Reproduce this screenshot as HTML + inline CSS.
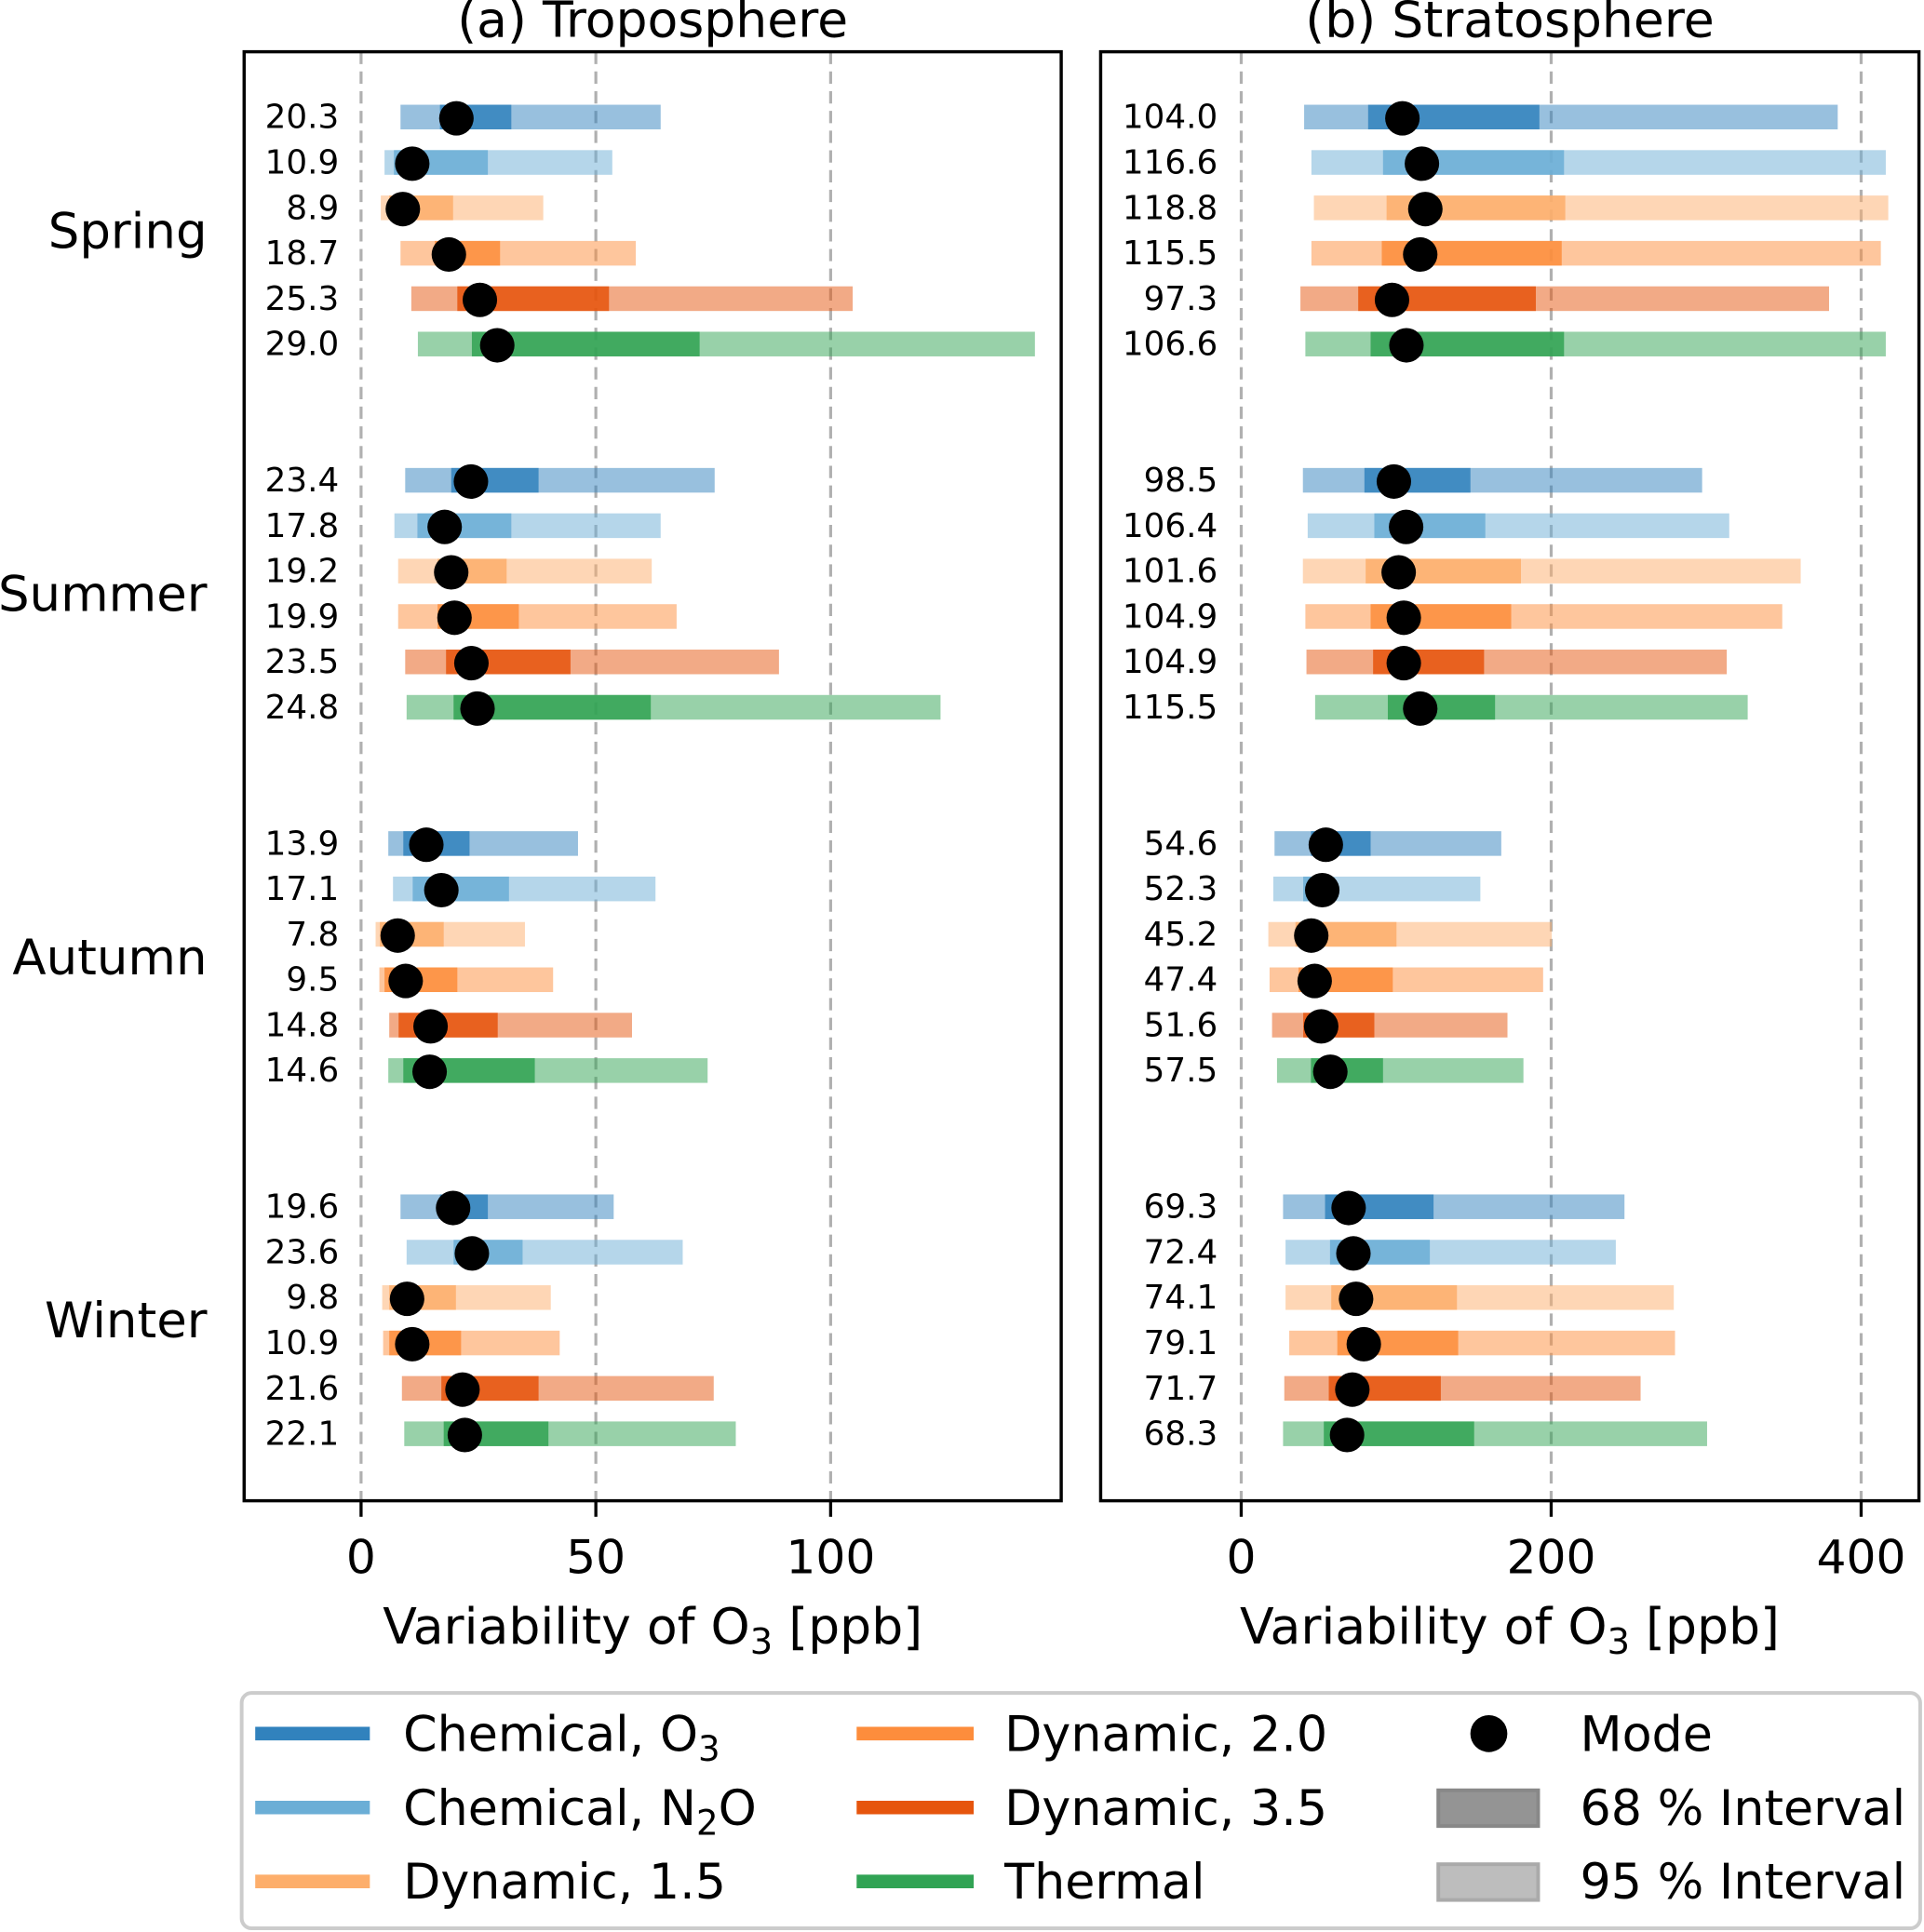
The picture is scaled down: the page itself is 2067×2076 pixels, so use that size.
<!DOCTYPE html>
<html><head><meta charset="utf-8"><style>
html,body{margin:0;padding:0;background:#fff}
svg{display:block;font-family:"DejaVu Sans","Liberation Sans",sans-serif}
</style></head><body>
<svg id="fig" width="2067" height="2076" viewBox="0 0 1561 1568" xmlns="http://www.w3.org/2000/svg">
<g id="plots"></g>
<g id="legend">
<rect x="196" y="1374" width="1362" height="191" rx="8" fill="#fff" stroke="#cccccc" stroke-width="3"/>
<line x1="207" y1="1407" x2="300" y2="1407" stroke="#3182bd" stroke-width="11"/>
<text x="327" y="1421" font-size="39.5">Chemical, O<tspan font-size="28" dy="8">3</tspan></text>
<line x1="207" y1="1467" x2="300" y2="1467" stroke="#6baed6" stroke-width="11"/>
<text x="327" y="1481" font-size="39.5">Chemical, N<tspan font-size="28" dy="8">2</tspan><tspan dy="-8">O</tspan></text>
<line x1="207" y1="1527" x2="300" y2="1527" stroke="#fdae6b" stroke-width="11"/>
<text x="327" y="1541" font-size="39.5">Dynamic, 1.5</text>
<line x1="695" y1="1407" x2="790" y2="1407" stroke="#fd8d3c" stroke-width="11"/>
<text x="815" y="1421" font-size="39.5">Dynamic, 2.0</text>
<line x1="695" y1="1467" x2="790" y2="1467" stroke="#e6550d" stroke-width="11"/>
<text x="815" y="1481" font-size="39.5">Dynamic, 3.5</text>
<line x1="695" y1="1527" x2="790" y2="1527" stroke="#31a354" stroke-width="11"/>
<text x="815" y="1541" font-size="39.5">Thermal</text>
<circle cx="1208" cy="1407" r="15" fill="#000"/>
<text x="1282" y="1421" font-size="39.5">Mode</text>
<rect x="1167" y="1453" width="81" height="29" fill="#949494" stroke="#888" stroke-width="3"/>
<text x="1282" y="1481" font-size="39.5">68 % Interval</text>
<rect x="1167" y="1513" width="81" height="29" fill="#bdbdbd" stroke="#aaa" stroke-width="3"/>
<text x="1282" y="1541" font-size="39.5">95 % Interval</text>
</g>
</svg>
<script>
const seasons = ["Spring","Summer","Autumn","Winter"];
const colors = ["#3182bd","#6baed6","#fdae6b","#fd8d3c","#e6550d","#31a354"];
// Troposphere
const tropMode = [20.3,10.9,8.9,18.7,25.3,29.0, 23.4,17.8,19.2,19.9,23.5,24.8, 13.9,17.1,7.8,9.5,14.8,14.6, 19.6,23.6,9.8,10.9,21.6,22.1];
const tropLo95 = [8.4,5.0,4.2,8.4,10.7,12.1, 9.4,7.1,7.9,7.9,9.4,9.7, 5.8,6.8,3.1,3.9,6.0,5.8, 8.4,9.7,4.5,4.7,8.7,9.2];
const tropHi95 = [63.8,53.5,38.8,58.5,104.7,143.5, 75.3,63.8,61.9,67.2,89.0,123.4, 46.2,62.7,34.9,40.9,57.7,73.8, 53.8,68.5,40.4,42.3,75.1,79.8];
const tropLo68 = [16.8,7.0,6.0,15.7,20.5,23.6, 19.2,12.0,16.3,16.3,18.1,19.7, 9.0,11.0,4.0,5.0,8.0,9.0, 16.8,19.7,6.0,6.0,17.1,17.6];
const tropHi68 = [32.0,27.0,19.6,29.6,52.8,72.1, 37.8,32.0,31.0,33.6,44.6,61.7, 23.1,31.5,17.6,20.5,29.1,37.0, 27.0,34.4,20.2,21.3,37.8,39.9];
// Stratosphere
const stratMode = [104.0,116.6,118.8,115.5,97.3,106.6, 98.5,106.4,101.6,104.9,104.9,115.5, 54.6,52.3,45.2,47.4,51.6,57.5, 69.3,72.4,74.1,79.1,71.7,68.3];
const stratLo95 = [40.6,45.3,46.9,45.3,38.2,41.4, 39.8,42.9,39.8,41.4,42.1,47.7, 21.5,20.7,17.5,18.3,19.9,23.1, 27.0,28.6,28.6,31.0,27.8,27.0];
const stratHi95 = [384.9,415.9,417.5,412.7,379.3,415.9, 297.4,314.9,361.0,349.1,313.3,326.8, 167.8,154.3,200.4,194.8,171.8,182.1, 247.3,241.7,279.1,279.9,257.7,300.6];
const stratLo68 = [81.9,91.5,93.8,90.7,75.5,83.5, 79.5,85.9,80.3,83.5,85.1,94.6, 45,40,35,37,40,45, 54.1,57.3,58.1,62.0,56.5,53.3];
const stratHi68 = [192.4,208.3,209.1,206.8,190.1,208.3, 147.9,157.5,180.5,174.2,156.7,163.8, 83.5,54.9,100.2,97.8,85.9,91.5, 124.1,121.7,139.2,140.0,128.8,150.3];
const tropTicks = [0,50,100];
const stratTicks = [0,200,400];

const NS="http://www.w3.org/2000/svg";
const root=document.getElementById('plots');
function mk(tag,attrs,parent){const e=document.createElementNS(NS,tag);for(const k in attrs)e.setAttribute(k,attrs[k]);(parent||root).appendChild(e);return e;}
function yPos(i){const g=Math.floor(i/6), r=i%6;return 95+(g*8+r)*36.85;}

function panel(opt){
  const g=mk('g',{});
  
  
  const x=v=>opt.x0+(v-opt.vmin)*(opt.x1-opt.x0)/(opt.vmax-opt.vmin);
  opt.ticks.forEach(t=>{
    const l=mk('line',{x1:x(t),x2:x(t),y1:42,y2:1218,stroke:'#b0b0b0','stroke-width':2.4,'stroke-dasharray':'10,6'},g);
    
    
    const tk=mk('line',{x1:x(t),x2:x(t),y1:1218,y2:1231,stroke:'#000','stroke-width':2.5},g);
    
    
    const tl=mk('text',{x:x(t),y:1277,'font-size':38,'text-anchor':'middle'},g);
    tl.textContent=t;
    
    
  });
  opt.mode.forEach((m,i)=>{
    const y=yPos(i), c=colors[i%6];
    const b1=mk('rect',{x:x(opt.lo95[i]),y:y-10,width:x(opt.hi95[i])-x(opt.lo95[i]),height:20,fill:c,'fill-opacity':0.5},g);
    
    
    const b2=mk('rect',{x:x(opt.lo68[i]),y:y-10,width:x(opt.hi68[i])-x(opt.lo68[i]),height:20,fill:c,'fill-opacity':0.85},g);
    
    
    const d=mk('circle',{cx:x(m),cy:y+1,r:14,fill:'#000'},g);
    
    
    const vl=mk('text',{x:opt.labelX,y:y+9,'font-size':27,'text-anchor':'end'},g);
    vl.textContent=m.toFixed(1);
    
    
  });
  const fr=mk('rect',{x:opt.x0,y:42,width:opt.x1-opt.x0,height:1176,fill:'none',stroke:'#000','stroke-width':2.6},g);
  
  
  const ti=mk('text',{x:(opt.x0+opt.x1)/2,y:30,'font-size':40.5,'text-anchor':'middle'},g);
  ti.textContent=opt.title;
  
  
  const xl=mk('text',{x:(opt.x0+opt.x1)/2,y:1334,'font-size':40.5,'text-anchor':'middle'},g);
  xl.innerHTML='Variability of O<tspan font-size="29" dy="8">3</tspan><tspan dy="-8"> [ppb]</tspan>';
  
  
}
panel({name:'troposphere-panel',title:'(a) Troposphere',x0:198,x1:861,vmin:-24.9,vmax:149.1,ticks:tropTicks,mode:tropMode,lo95:tropLo95,hi95:tropHi95,lo68:tropLo68,hi68:tropHi68,labelX:275});
panel({name:'stratosphere-panel',title:'(b) Stratosphere',x0:893,x1:1557,vmin:-90.7,vmax:437.3,ticks:stratTicks,mode:stratMode,lo95:stratLo95,hi95:stratHi95,lo68:stratLo68,hi68:stratHi68,labelX:988});
seasons.forEach((s,k)=>{
  const t=mk('text',{x:168,y:(yPos(k*6)+yPos(k*6+5))/2+14,'font-size':40,'text-anchor':'end'});
  t.textContent=s;
  
  
});
</script>
</body></html>
